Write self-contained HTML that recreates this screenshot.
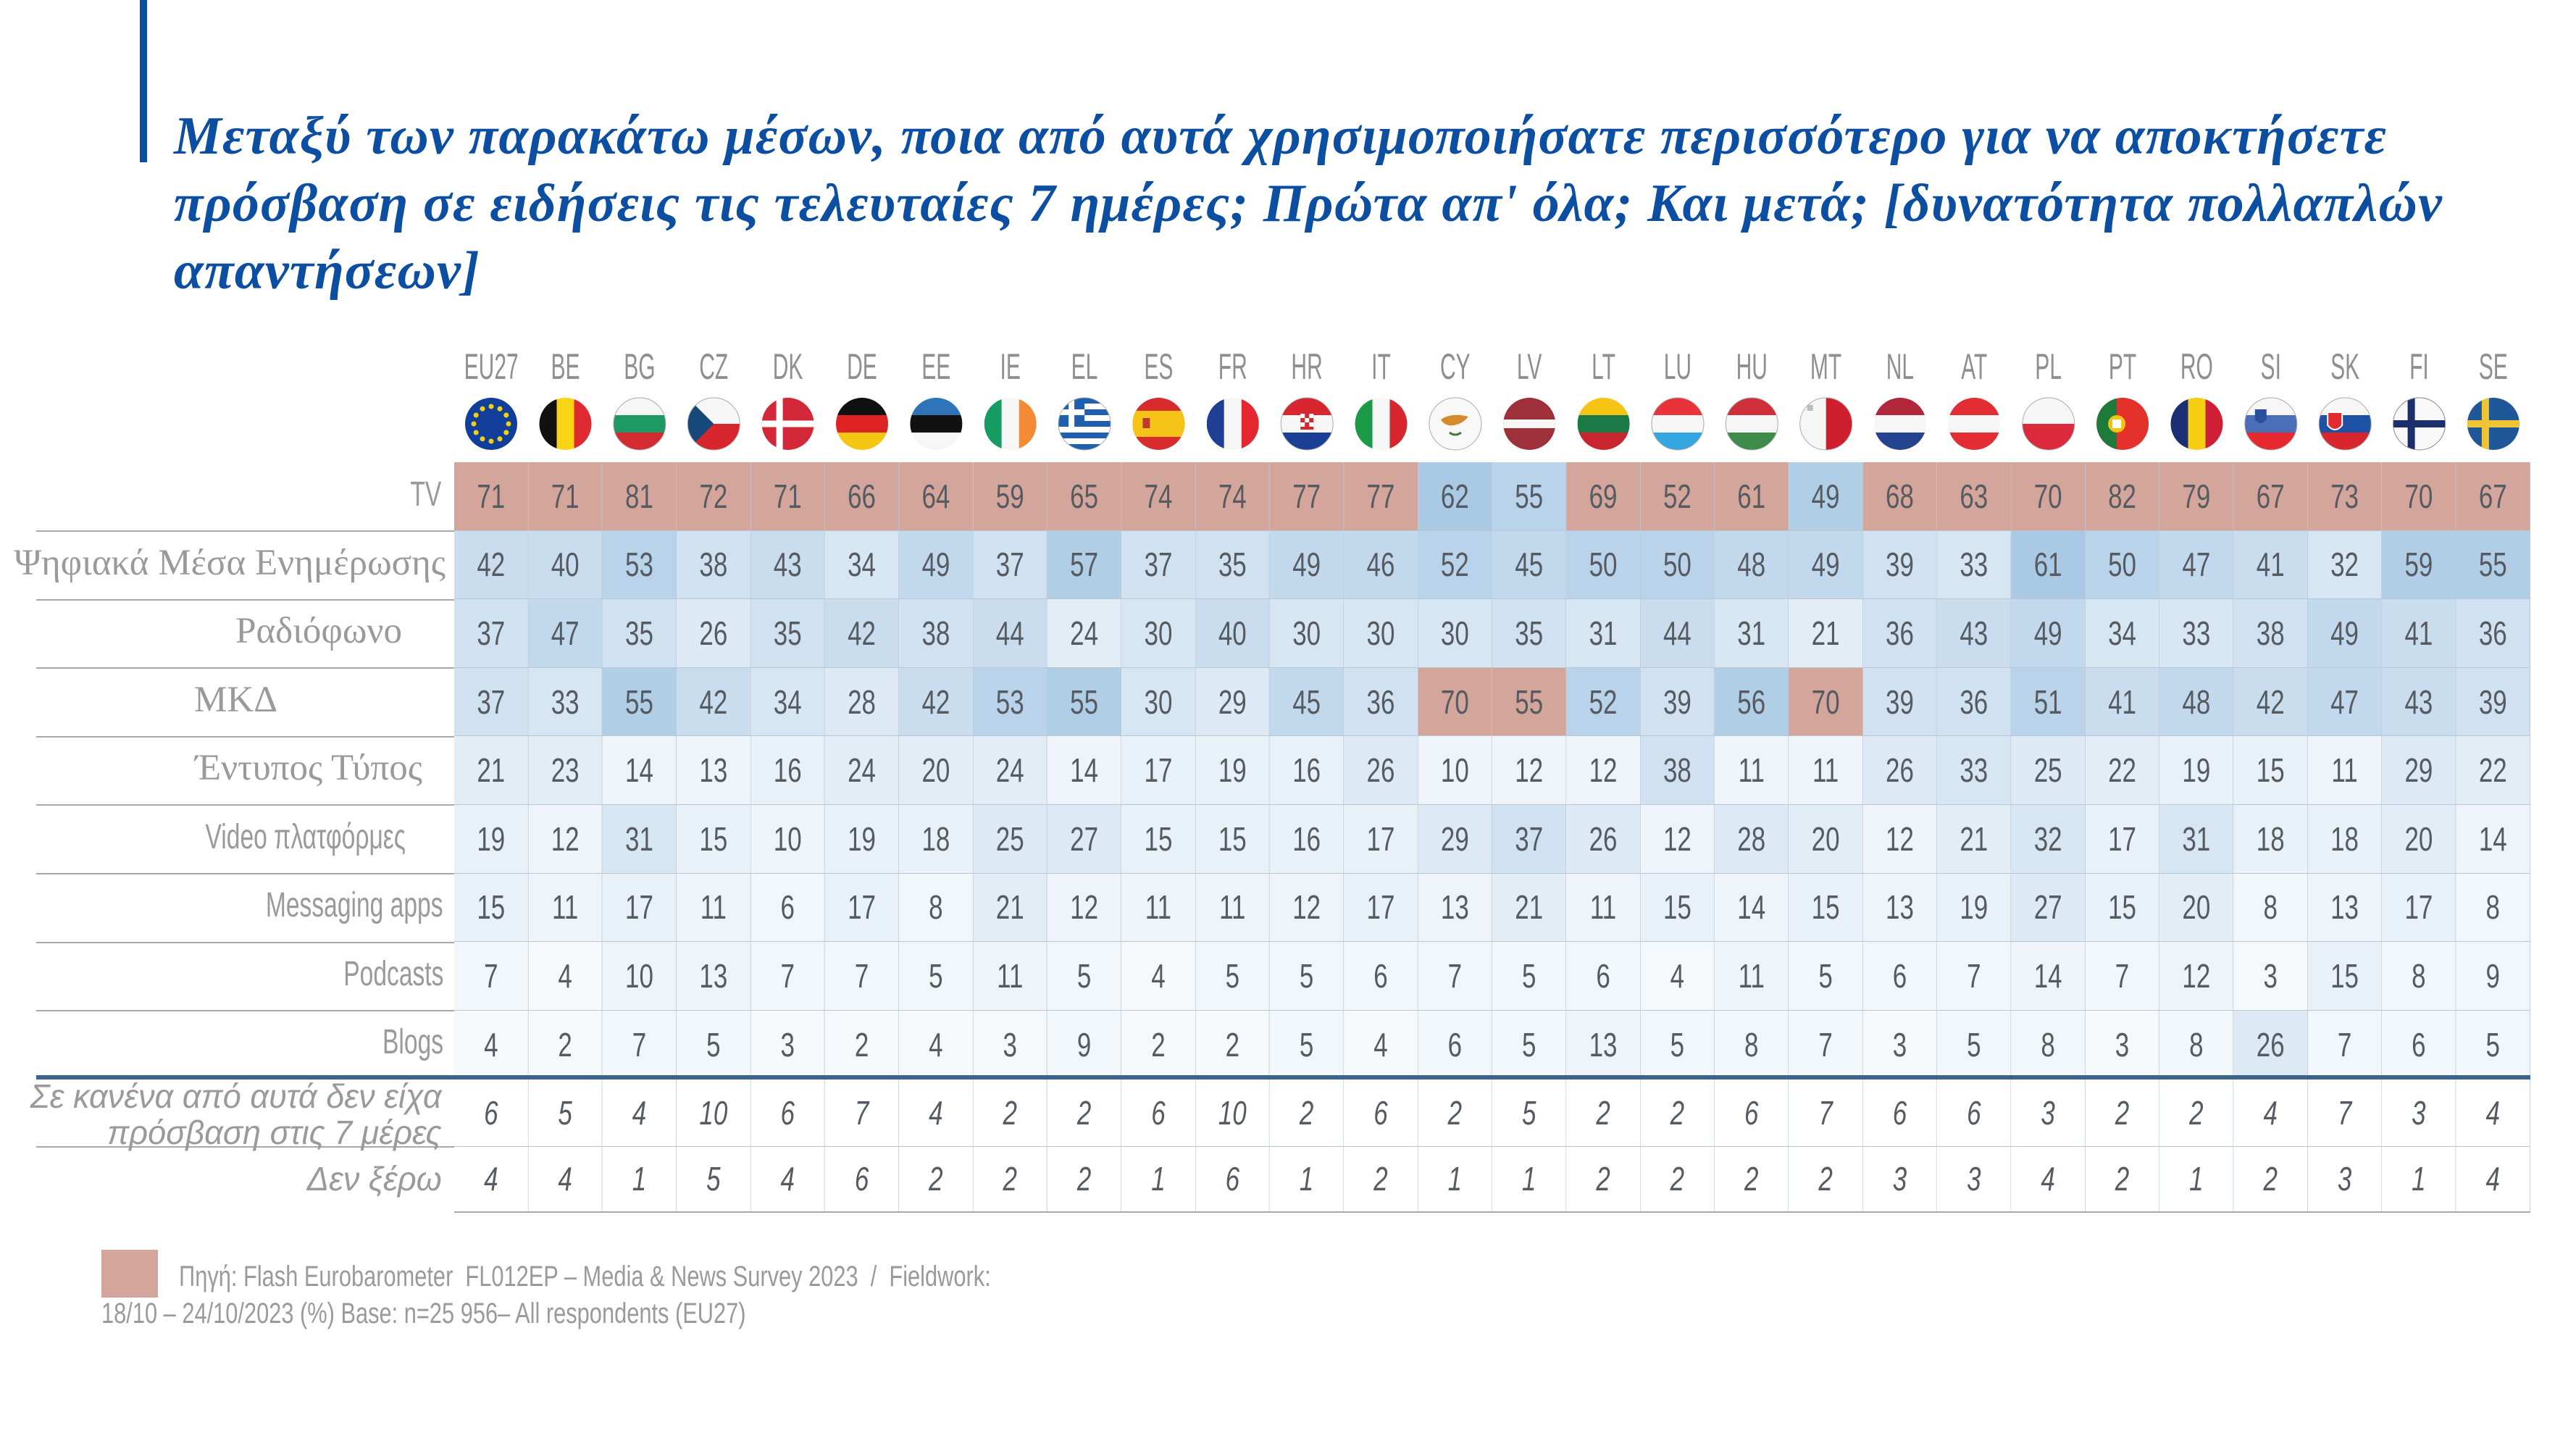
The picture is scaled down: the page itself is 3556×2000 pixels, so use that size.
<!DOCTYPE html>
<html><head><meta charset="utf-8">
<style>
*{margin:0;padding:0}
body{width:3556px;height:2000px;background:#fff;position:relative;overflow:hidden;font-family:"Liberation Sans",sans-serif}
.bar{position:absolute;left:193px;top:0;width:10px;height:224px;background:#0b4ea2}
.tl{position:absolute;left:240px;font:bold italic 74px "Liberation Serif","Noto Serif CJK SC",serif;letter-spacing:1.2px;color:#0b4ea2;white-space:nowrap}
#h{position:absolute;left:627px;top:470px;width:4777px;height:72px;display:grid;grid-template-columns:repeat(28,170.6px);transform:scaleX(.6);transform-origin:0 0}
#h span{text-align:center;font:50px "Liberation Sans",sans-serif;color:#8f8f8f;line-height:72px}
#g{position:absolute;left:627px;top:638px;width:3771px;display:grid;grid-template-columns:repeat(28,134.68px);grid-template-rows:repeat(9,94.6px) 93.5px 90px;transform:scaleX(.76);transform-origin:0 0}
#g b{display:flex;align-items:center;justify-content:center;font:46px "Liberation Sans",sans-serif;color:#565b62;border-right:1px solid #bcc6d0;border-bottom:1px solid #bcc6d0;box-sizing:border-box}
#g b.w{font-style:italic;background:#fff}
.p{background:#d4a59b}.c60{background:#a9c9e4}.c55{background:#b1cee7}.c50{background:#b9d3ea}.c45{background:#c2d9ed}.c40{background:#c9ddef}.c35{background:#d0e2f1}.c30{background:#d7e6f3}.c25{background:#dde9f4}.c20{background:#e3edf6}.c15{background:#e9f1f8}.c10{background:#eef4f9}.c5{background:#f2f7fb}.c0{background:#f6f9fc}
.lab{position:absolute;white-space:nowrap;color:#9a9a9a}
.se{font:51px "Liberation Serif",serif}
.sa{font:48px "Liberation Sans",sans-serif;transform:scaleX(.7);transform-origin:100% 50%}
.it{font:italic 46px "Liberation Sans",sans-serif;transform:scaleX(.98);transform-origin:100% 50%;text-align:right}
.ln{position:absolute;height:2px;background:#a8a8a8}
.ft{position:absolute;white-space:nowrap;font:40px "Liberation Sans",sans-serif;color:#9a9a9a;transform:scaleX(.77);transform-origin:0 50%}
</style></head><body>
<div class="bar"></div>
<div class="tl" style="top:146px">Μεταξύ των παρακάτω μέσων, ποια από αυτά χρησιμοποιήσατε περισσότερο για να αποκτήσετε</div>
<div class="tl" style="top:239px">πρόσβαση σε ειδήσεις τις τελευταίες 7 ημέρες; Πρώτα απ' όλα; Και μετά; [δυνατότητα πολλαπλών</div>
<div class="tl" style="top:332px">απαντήσεων]</div>

<div id="h"><span>EU27</span><span>BE</span><span>BG</span><span>CZ</span><span>DK</span><span>DE</span><span>EE</span><span>IE</span><span>EL</span><span>ES</span><span>FR</span><span>HR</span><span>IT</span><span>CY</span><span>LV</span><span>LT</span><span>LU</span><span>HU</span><span>MT</span><span>NL</span><span>AT</span><span>PL</span><span>PT</span><span>RO</span><span>SI</span><span>SK</span><span>FI</span><span>SE</span></div>

<svg style="position:absolute;left:0;top:0" width="3556" height="700">
<defs><clipPath id="c"><circle cx="0" cy="0" r="36"/></clipPath></defs>
<g transform="translate(678,585)"><circle r="36" fill="#113e9a"/>
<g fill="#f5d010"><circle cx="0" cy="-24" r="3.5"/><circle cx="12" cy="-20.8" r="3.5"/><circle cx="20.8" cy="-12" r="3.5"/><circle cx="24" cy="0" r="3.5"/><circle cx="20.8" cy="12" r="3.5"/><circle cx="12" cy="20.8" r="3.5"/><circle cx="0" cy="24" r="3.5"/><circle cx="-12" cy="20.8" r="3.5"/><circle cx="-20.8" cy="12" r="3.5"/><circle cx="-24" cy="0" r="3.5"/><circle cx="-20.8" cy="-12" r="3.5"/><circle cx="-12" cy="-20.8" r="3.5"/></g></g>
<g transform="translate(780.5,585)"><g clip-path="url(#c)"><rect x="-36" y="-36" width="24" height="72" fill="#111"/><rect x="-12" y="-36" width="24" height="72" fill="#f7d416"/><rect x="12" y="-36" width="24" height="72" fill="#e02a32"/></g></g>
<g transform="translate(882.9,585)"><g clip-path="url(#c)"><rect x="-36" y="-36" width="72" height="24" fill="#f6f6f6"/><rect x="-36" y="-12" width="72" height="24" fill="#1d9a63"/><rect x="-36" y="12" width="72" height="24" fill="#d42b32"/></g><circle r="36" fill="none" stroke="#aaa"/></g>
<g transform="translate(985.3,585)"><g clip-path="url(#c)"><rect x="-36" y="-36" width="72" height="36" fill="#f6f6f6"/><rect x="-36" y="0" width="72" height="36" fill="#d8262e"/><path d="M-36,-36 L0,0 L-36,36Z" fill="#16497a"/></g><circle r="36" fill="none" stroke="#aaa"/></g>
<g transform="translate(1087.6,585)"><g clip-path="url(#c)"><rect x="-36" y="-36" width="72" height="72" fill="#d3273a"/><rect x="-16" y="-36" width="9" height="72" fill="#fff"/><rect x="-36" y="-4.5" width="72" height="9" fill="#fff"/></g></g>
<g transform="translate(1190,585)"><g clip-path="url(#c)"><rect x="-36" y="-36" width="72" height="24" fill="#111"/><rect x="-36" y="-12" width="72" height="24" fill="#de2323"/><rect x="-36" y="12" width="72" height="24" fill="#f5c514"/></g></g>
<g transform="translate(1292.4,585)"><g clip-path="url(#c)"><rect x="-36" y="-36" width="72" height="24" fill="#2f74b8"/><rect x="-36" y="-12" width="72" height="24" fill="#111"/><rect x="-36" y="12" width="72" height="24" fill="#f6f6f6"/></g></g>
<g transform="translate(1394.7,585)"><g clip-path="url(#c)"><rect x="-36" y="-36" width="24" height="72" fill="#169b62"/><rect x="-12" y="-36" width="24" height="72" fill="#f6f6f6"/><rect x="12" y="-36" width="24" height="72" fill="#f58a35"/></g></g>
<g transform="translate(1497.1,585)"><g clip-path="url(#c)"><rect x="-36" y="-36" width="72" height="72" fill="#fff"/><rect x="-36" y="-36" width="72" height="8" fill="#1e5fb0"/><rect x="-36" y="-20" width="72" height="8" fill="#1e5fb0"/><rect x="-36" y="-4" width="72" height="8" fill="#1e5fb0"/><rect x="-36" y="12" width="72" height="8" fill="#1e5fb0"/><rect x="-36" y="28" width="72" height="8" fill="#1e5fb0"/><rect x="-36" y="-36" width="36" height="40" fill="#1e5fb0"/><rect x="-22" y="-36" width="8" height="40" fill="#fff"/><rect x="-36" y="-20" width="36" height="8" fill="#fff"/></g><circle r="36" fill="none" stroke="#aaa"/></g>
<g transform="translate(1599.4,585)"><g clip-path="url(#c)"><rect x="-36" y="-36" width="72" height="72" fill="#d82b2b"/><rect x="-36" y="-18" width="72" height="36" fill="#f6c318"/><rect x="-22" y="-8" width="10" height="14" fill="#c0392b"/></g></g>
<g transform="translate(1701.8,585)"><g clip-path="url(#c)"><rect x="-36" y="-36" width="24" height="72" fill="#1e3f95"/><rect x="-12" y="-36" width="24" height="72" fill="#f6f6f6"/><rect x="12" y="-36" width="24" height="72" fill="#e3262f"/></g></g>
<g transform="translate(1804.2,585)"><g clip-path="url(#c)"><rect x="-36" y="-36" width="72" height="24" fill="#d8262e"/><rect x="-36" y="-12" width="72" height="24" fill="#f6f6f6"/><rect x="-36" y="12" width="72" height="24" fill="#1b3f94"/><rect x="-9" y="-14" width="18" height="22" fill="#d8262e"/><rect x="-9" y="-14" width="6" height="6" fill="#fff"/><rect x="3" y="-14" width="6" height="6" fill="#fff"/><rect x="-3" y="-8" width="6" height="6" fill="#fff"/><rect x="-9" y="-2" width="6" height="6" fill="#fff"/><rect x="3" y="-2" width="6" height="6" fill="#fff"/></g><circle r="36" fill="none" stroke="#aaa"/></g>
<g transform="translate(1906.5,585)"><g clip-path="url(#c)"><rect x="-36" y="-36" width="24" height="72" fill="#1b9a48"/><rect x="-12" y="-36" width="24" height="72" fill="#f6f6f6"/><rect x="12" y="-36" width="24" height="72" fill="#d8262e"/></g></g>
<g transform="translate(2008.9,585)"><circle r="36" fill="#f8f8f8" stroke="#aaa"/><path d="M-20,-6 Q-5,-16 18,-10 Q10,0 -2,2 Q-14,4 -20,-6Z" fill="#d58b2b"/><path d="M-8,12 Q0,18 8,12" stroke="#4a7a3a" stroke-width="3" fill="none"/></g>
<g transform="translate(2111.2,585)"><g clip-path="url(#c)"><rect x="-36" y="-36" width="72" height="72" fill="#9e3039"/><rect x="-36" y="-6" width="72" height="12" fill="#f6f6f6"/></g></g>
<g transform="translate(2213.6,585)"><g clip-path="url(#c)"><rect x="-36" y="-36" width="72" height="24" fill="#f7c416"/><rect x="-36" y="-12" width="72" height="24" fill="#1a7a45"/><rect x="-36" y="12" width="72" height="24" fill="#c8262e"/></g></g>
<g transform="translate(2316,585)"><g clip-path="url(#c)"><rect x="-36" y="-36" width="72" height="24" fill="#e8333b"/><rect x="-36" y="-12" width="72" height="24" fill="#f6f6f6"/><rect x="-36" y="12" width="72" height="24" fill="#35a7e0"/></g><circle r="36" fill="none" stroke="#aaa"/></g>
<g transform="translate(2418.3,585)"><g clip-path="url(#c)"><rect x="-36" y="-36" width="72" height="24" fill="#cf2f3a"/><rect x="-36" y="-12" width="72" height="24" fill="#f6f6f6"/><rect x="-36" y="12" width="72" height="24" fill="#3d8a4a"/></g><circle r="36" fill="none" stroke="#aaa"/></g>
<g transform="translate(2520.7,585)"><g clip-path="url(#c)"><rect x="-36" y="-36" width="36" height="72" fill="#f6f6f6"/><rect x="0" y="-36" width="36" height="72" fill="#cf1f2e"/><rect x="-26" y="-26" width="8" height="8" fill="#bbb"/></g><circle r="36" fill="none" stroke="#aaa"/></g>
<g transform="translate(2623,585)"><g clip-path="url(#c)"><rect x="-36" y="-36" width="72" height="24" fill="#b2263a"/><rect x="-36" y="-12" width="72" height="24" fill="#f6f6f6"/><rect x="-36" y="12" width="72" height="24" fill="#24448f"/></g></g>
<g transform="translate(2725.4,585)"><g clip-path="url(#c)"><rect x="-36" y="-36" width="72" height="24" fill="#e22d35"/><rect x="-36" y="-12" width="72" height="24" fill="#f6f6f6"/><rect x="-36" y="12" width="72" height="24" fill="#e22d35"/></g></g>
<g transform="translate(2827.8,585)"><g clip-path="url(#c)"><rect x="-36" y="-36" width="72" height="36" fill="#f6f6f6"/><rect x="-36" y="0" width="72" height="36" fill="#dc2a3c"/></g><circle r="36" fill="none" stroke="#aaa"/></g>
<g transform="translate(2930.1,585)"><g clip-path="url(#c)"><rect x="-36" y="-36" width="72" height="72" fill="#e4312c"/><rect x="-36" y="-36" width="28" height="72" fill="#1d7a3a"/><circle cx="-8" cy="0" r="12" fill="#f2c40f"/><rect x="-14" y="-6" width="12" height="12" fill="#fff"/></g></g>
<g transform="translate(3032.5,585)"><g clip-path="url(#c)"><rect x="-36" y="-36" width="24" height="72" fill="#1c2e74"/><rect x="-12" y="-36" width="24" height="72" fill="#f6cf12"/><rect x="12" y="-36" width="24" height="72" fill="#cf1f35"/></g></g>
<g transform="translate(3134.8,585)"><g clip-path="url(#c)"><rect x="-36" y="-36" width="72" height="24" fill="#f6f6f6"/><rect x="-36" y="-12" width="72" height="24" fill="#4a6fb8"/><rect x="-36" y="12" width="72" height="24" fill="#e7282f"/><path d="M-22,-20 L-6,-20 L-6,-6 Q-14,4 -22,-6Z" fill="#2b4fa0"/></g><circle r="36" fill="none" stroke="#aaa"/></g>
<g transform="translate(3237.2,585)"><g clip-path="url(#c)"><rect x="-36" y="-36" width="72" height="24" fill="#f6f6f6"/><rect x="-36" y="-12" width="72" height="24" fill="#1c51a3"/><rect x="-36" y="12" width="72" height="24" fill="#d7262e"/><path d="M-24,-16 L-4,-16 L-4,2 Q-14,14 -24,2Z" fill="#e22a2f" stroke="#fff" stroke-width="2"/></g><circle r="36" fill="none" stroke="#aaa"/></g>
<g transform="translate(3339.6,585)"><g clip-path="url(#c)"><rect x="-36" y="-36" width="72" height="72" fill="#f8f8f8"/><rect x="-16" y="-36" width="10" height="72" fill="#1d2f6a"/><rect x="-36" y="-5" width="72" height="10" fill="#1d2f6a"/></g><circle r="36" fill="none" stroke="#888"/></g>
<g transform="translate(3441.9,585)"><g clip-path="url(#c)"><rect x="-36" y="-36" width="72" height="72" fill="#1f5798"/><rect x="-16" y="-36" width="10" height="72" fill="#f0c534"/><rect x="-36" y="-5" width="72" height="10" fill="#f0c534"/></g></g>
</svg>

<div id="g">
<b class="p">71</b><b class="p">71</b><b class="p">81</b><b class="p">72</b><b class="p">71</b><b class="p">66</b><b class="p">64</b><b class="p">59</b><b class="p">65</b><b class="p">74</b><b class="p">74</b><b class="p">77</b><b class="p">77</b><b class="c60">62</b><b class="c50">55</b><b class="p">69</b><b class="p">52</b><b class="p">61</b><b class="c55">49</b><b class="p">68</b><b class="p">63</b><b class="p">70</b><b class="p">82</b><b class="p">79</b><b class="p">67</b><b class="p">73</b><b class="p">70</b><b class="p">67</b>
<b class="c40">42</b><b class="c40">40</b><b class="c50">53</b><b class="c35">38</b><b class="c40">43</b><b class="c30">34</b><b class="c45">49</b><b class="c35">37</b><b class="c55">57</b><b class="c35">37</b><b class="c35">35</b><b class="c45">49</b><b class="c45">46</b><b class="c50">52</b><b class="c45">45</b><b class="c50">50</b><b class="c50">50</b><b class="c45">48</b><b class="c45">49</b><b class="c35">39</b><b class="c30">33</b><b class="c60">61</b><b class="c50">50</b><b class="c45">47</b><b class="c40">41</b><b class="c30">32</b><b class="c55">59</b><b class="c55">55</b>
<b class="c35">37</b><b class="c45">47</b><b class="c35">35</b><b class="c25">26</b><b class="c35">35</b><b class="c40">42</b><b class="c35">38</b><b class="c40">44</b><b class="c20">24</b><b class="c30">30</b><b class="c40">40</b><b class="c30">30</b><b class="c30">30</b><b class="c30">30</b><b class="c35">35</b><b class="c30">31</b><b class="c40">44</b><b class="c30">31</b><b class="c20">21</b><b class="c35">36</b><b class="c40">43</b><b class="c45">49</b><b class="c30">34</b><b class="c30">33</b><b class="c35">38</b><b class="c45">49</b><b class="c40">41</b><b class="c35">36</b>
<b class="c35">37</b><b class="c30">33</b><b class="c55">55</b><b class="c40">42</b><b class="c30">34</b><b class="c25">28</b><b class="c40">42</b><b class="c50">53</b><b class="c55">55</b><b class="c30">30</b><b class="c25">29</b><b class="c45">45</b><b class="c35">36</b><b class="p">70</b><b class="p">55</b><b class="c50">52</b><b class="c35">39</b><b class="c55">56</b><b class="p">70</b><b class="c35">39</b><b class="c35">36</b><b class="c50">51</b><b class="c40">41</b><b class="c45">48</b><b class="c40">42</b><b class="c45">47</b><b class="c40">43</b><b class="c35">39</b>
<b class="c20">21</b><b class="c20">23</b><b class="c10">14</b><b class="c10">13</b><b class="c15">16</b><b class="c20">24</b><b class="c20">20</b><b class="c20">24</b><b class="c10">14</b><b class="c15">17</b><b class="c15">19</b><b class="c15">16</b><b class="c25">26</b><b class="c10">10</b><b class="c10">12</b><b class="c10">12</b><b class="c35">38</b><b class="c10">11</b><b class="c10">11</b><b class="c25">26</b><b class="c30">33</b><b class="c25">25</b><b class="c20">22</b><b class="c15">19</b><b class="c15">15</b><b class="c10">11</b><b class="c25">29</b><b class="c20">22</b>
<b class="c15">19</b><b class="c10">12</b><b class="c30">31</b><b class="c15">15</b><b class="c10">10</b><b class="c15">19</b><b class="c15">18</b><b class="c25">25</b><b class="c25">27</b><b class="c15">15</b><b class="c15">15</b><b class="c15">16</b><b class="c15">17</b><b class="c25">29</b><b class="c35">37</b><b class="c25">26</b><b class="c10">12</b><b class="c25">28</b><b class="c20">20</b><b class="c10">12</b><b class="c20">21</b><b class="c30">32</b><b class="c15">17</b><b class="c30">31</b><b class="c15">18</b><b class="c15">18</b><b class="c20">20</b><b class="c10">14</b>
<b class="c15">15</b><b class="c10">11</b><b class="c15">17</b><b class="c10">11</b><b class="c5">6</b><b class="c15">17</b><b class="c5">8</b><b class="c20">21</b><b class="c10">12</b><b class="c10">11</b><b class="c10">11</b><b class="c10">12</b><b class="c15">17</b><b class="c10">13</b><b class="c20">21</b><b class="c10">11</b><b class="c15">15</b><b class="c10">14</b><b class="c15">15</b><b class="c10">13</b><b class="c15">19</b><b class="c25">27</b><b class="c15">15</b><b class="c20">20</b><b class="c5">8</b><b class="c10">13</b><b class="c15">17</b><b class="c5">8</b>
<b class="c5">7</b><b class="c0">4</b><b class="c10">10</b><b class="c10">13</b><b class="c5">7</b><b class="c5">7</b><b class="c5">5</b><b class="c10">11</b><b class="c5">5</b><b class="c0">4</b><b class="c5">5</b><b class="c5">5</b><b class="c5">6</b><b class="c5">7</b><b class="c5">5</b><b class="c5">6</b><b class="c0">4</b><b class="c10">11</b><b class="c5">5</b><b class="c5">6</b><b class="c5">7</b><b class="c10">14</b><b class="c5">7</b><b class="c10">12</b><b class="c0">3</b><b class="c15">15</b><b class="c5">8</b><b class="c5">9</b>
<b class="c0">4</b><b class="c0">2</b><b class="c5">7</b><b class="c5">5</b><b class="c0">3</b><b class="c0">2</b><b class="c0">4</b><b class="c0">3</b><b class="c5">9</b><b class="c0">2</b><b class="c0">2</b><b class="c5">5</b><b class="c0">4</b><b class="c5">6</b><b class="c5">5</b><b class="c10">13</b><b class="c5">5</b><b class="c5">8</b><b class="c5">7</b><b class="c0">3</b><b class="c5">5</b><b class="c5">8</b><b class="c0">3</b><b class="c5">8</b><b class="c25">26</b><b class="c5">7</b><b class="c5">6</b><b class="c5">5</b>
<b class="w">6</b><b class="w">5</b><b class="w">4</b><b class="w">10</b><b class="w">6</b><b class="w">7</b><b class="w">4</b><b class="w">2</b><b class="w">2</b><b class="w">6</b><b class="w">10</b><b class="w">2</b><b class="w">6</b><b class="w">2</b><b class="w">5</b><b class="w">2</b><b class="w">2</b><b class="w">6</b><b class="w">7</b><b class="w">6</b><b class="w">6</b><b class="w">3</b><b class="w">2</b><b class="w">2</b><b class="w">4</b><b class="w">7</b><b class="w">3</b><b class="w">4</b>
<b class="w">4</b><b class="w">4</b><b class="w">1</b><b class="w">5</b><b class="w">4</b><b class="w">6</b><b class="w">2</b><b class="w">2</b><b class="w">2</b><b class="w">1</b><b class="w">6</b><b class="w">1</b><b class="w">2</b><b class="w">1</b><b class="w">1</b><b class="w">2</b><b class="w">2</b><b class="w">2</b><b class="w">2</b><b class="w">3</b><b class="w">3</b><b class="w">4</b><b class="w">2</b><b class="w">1</b><b class="w">2</b><b class="w">3</b><b class="w">1</b><b class="w">4</b>
</div>

<div class="ln" style="left:50px;top:732px;width:577px"></div>
<div class="ln" style="left:50px;top:827px;width:577px"></div>
<div class="ln" style="left:50px;top:921px;width:577px"></div>
<div class="ln" style="left:50px;top:1016px;width:577px"></div>
<div class="ln" style="left:50px;top:1110px;width:577px"></div>
<div class="ln" style="left:50px;top:1205px;width:577px"></div>
<div class="ln" style="left:50px;top:1300px;width:577px"></div>
<div class="ln" style="left:50px;top:1394px;width:577px"></div>
<div class="ln" style="left:50px;top:1582px;width:577px"></div>
<div style="position:absolute;left:50px;top:1484px;width:3443px;height:6px;background:#3d6389"></div>
<div class="ln" style="left:627px;top:1672px;width:2866px"></div>

<div class="lab sa" style="right:2947px;top:655px">TV</div>
<div class="lab se" style="right:2941px;top:748px">Ψηφιακά Μέσα Ενημέρωσης</div>
<div class="lab se" style="right:3001px;top:842px">Ραδιόφωνο</div>
<div class="lab se" style="right:3173px;top:937px">ΜΚΔ</div>
<div class="lab se" style="right:2973px;top:1031px">Έντυπος Τύπος</div>
<div class="lab sa" style="right:2996px;top:1128px">Video πλατφόρμες</div>
<div class="lab sa" style="right:2944px;top:1222px">Messaging apps</div>
<div class="lab sa" style="right:2944px;top:1317px">Podcasts</div>
<div class="lab sa" style="right:2944px;top:1411px">Blogs</div>
<div class="lab it" style="right:2946px;top:1488px;line-height:50px">Σε κανένα από αυτά δεν είχα<br>πρόσβαση στις 7 μέρες</div>
<div class="lab it" style="right:2946px;top:1600px">Δεν ξέρω</div>

<div style="position:absolute;left:140px;top:1725px;width:78px;height:66px;background:#d4a59b"></div>
<div class="ft" style="left:247px;top:1740px">Πηγή: Flash Eurobarometer&nbsp; FL012EP – Media &amp; News Survey 2023&nbsp; /&nbsp; Fieldwork:</div>
<div class="ft" style="left:140px;top:1791px">18/10 – 24/10/2023 (%) Base: n=25 956– All respondents (EU27)</div>
</body></html>
